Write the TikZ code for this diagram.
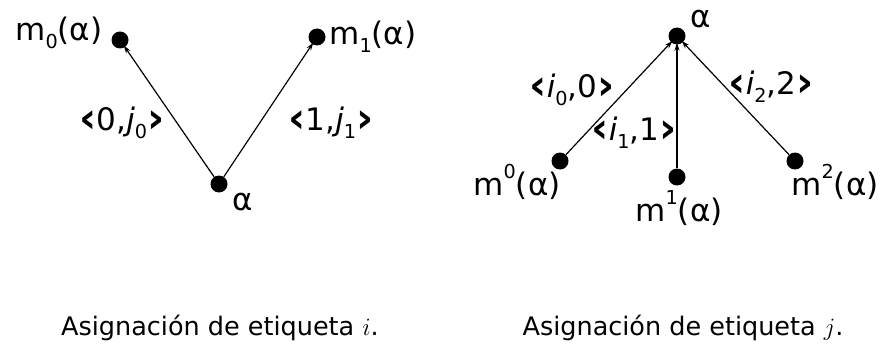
\documentclass[tikz,border=0pt]{standalone}
\usepackage{fontspec}
\newfontfamily\lblfont{DejaVu Sans}
\newfontfamily\capfont{DejaVu Sans}
\usetikzlibrary{arrows.meta}
\newcommand{\lsub}[1]{\raisebox{-0.25em}{\scalebox{0.62}{#1}}}
\newcommand{\lsup}[1]{\raisebox{0.55em}{\scalebox{0.62}{#1}}}
\newcommand{\lang}{\raisebox{-0.06em}{\scalebox{1.35}{\bfseries ‹}}}
\newcommand{\rang}{\raisebox{-0.06em}{\scalebox{1.35}{\bfseries ›}}}
\tikzset{
  dot/.style={circle, fill=black, inner sep=0pt, minimum size=17pt},
  lbl/.style={inner sep=0pt, font=\lblfont\fontsize{31}{34}\selectfont},
  captxt/.style={inner sep=0pt, font=\capfont\fontsize{25.5}{29}\selectfont},
  arr/.style={line width=1.2pt, -{Stealth[length=8pt,width=5pt]}, shorten >=-2pt}
}
\begin{document}
\begin{tikzpicture}[x=1pt,y=-1pt]
\useasboundingbox (0,0) rectangle (882,350);
% left diagram
\node[dot] (La) at (219,184) {};
\node[dot] (Lm0) at (120,40) {};
\node[dot] (Lm1) at (317,37) {};
\draw[arr] (La) -- (Lm0);
\draw[arr] (La) -- (Lm1);
\node[lbl] (tLm0) at (59,33) {m\lsub{0}(α)};
\node[lbl] (tLm1) at (373,37) {m\lsub{1}(α)};
\node[lbl] (tLa) at (243,202) {α};
\node[lbl] (tL0) at (122,123) {\lang0,\textit{j}\lsub{0}\rang};
\node[lbl] (tL1) at (331,123) {\lang1,\textit{j}\lsub{1}\rang};
% right diagram
\node[dot] (Ra) at (677,36) {};
\node[dot] (Rm0) at (560,161) {};
\node[dot] (Rm1) at (677,177) {};
\node[dot] (Rm2) at (795,161) {};
\draw[arr] (Rm0) -- (Ra);
\draw[arr] (Rm1) -- (Ra);
\draw[arr] (Rm2) -- (Ra);
\node[lbl] (tRa) at (701,19) {α};
\node[lbl] (tRm0) at (517,182) {m\lsup{0}(α)};
\node[lbl] (tRm1) at (679,208) {m\lsup{1}(α)};
\node[lbl] (tRm2) at (835,182) {m\lsup{2}(α)};
\node[lbl] (tR0) at (572,90) {\lang\textit{i}\lsub{0},0\rang};
\node[lbl] (tR1) at (634,133) {\lang\textit{i}\lsub{1},1\rang};
\node[lbl] (tR2) at (771,87) {\lang\textit{i}\lsub{2},2\rang};
% captions
\node[captxt] (c1) at (220,328) {Asignación de etiqueta $i$.};
\node[captxt] (c2) at (683,328) {Asignación de etiqueta $j$.};
\end{tikzpicture}
\end{document}
